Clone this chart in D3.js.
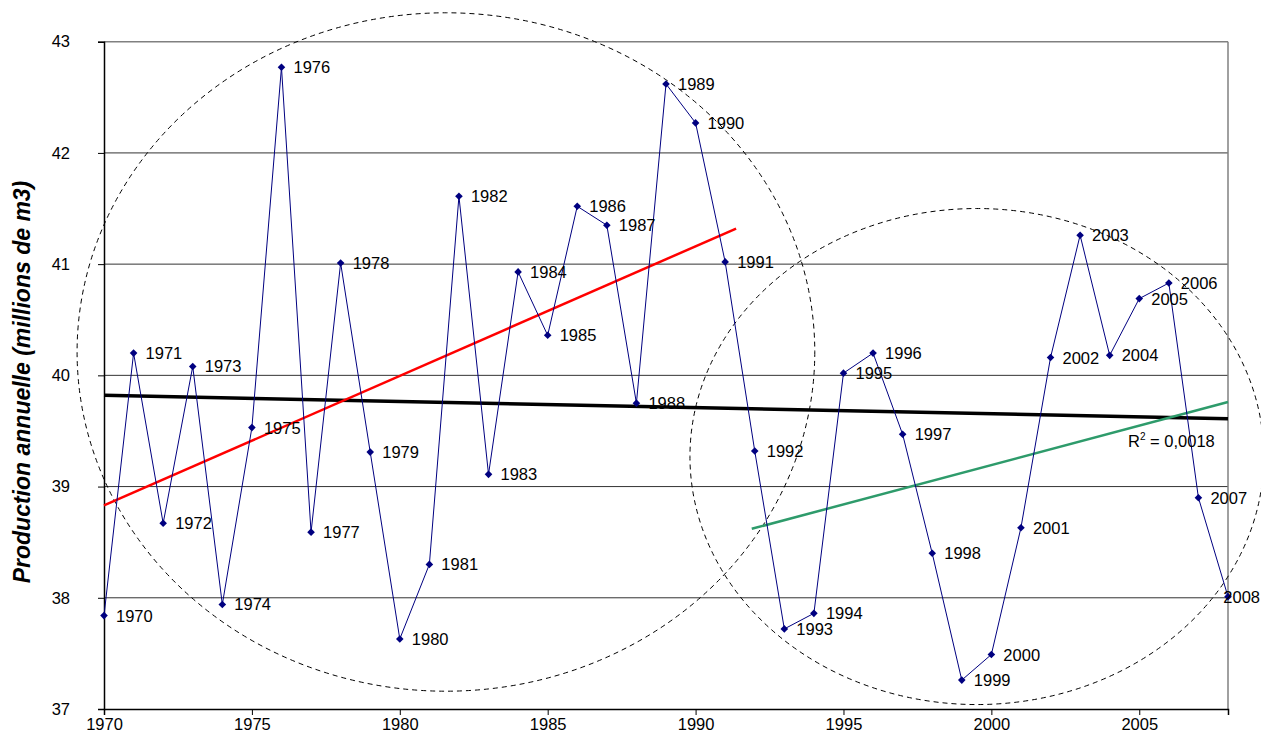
<!DOCTYPE html>
<html>
<head>
<meta charset="utf-8">
<script src="https://cdn.jsdelivr.net/npm/d3@7/dist/d3.min.js"></script>
<style>
  html, body { margin: 0; padding: 0; background: #fff; }
  svg { display: block; font-family: Arial, "Liberation Sans", sans-serif; }
</style>
</head>
<body>
<svg id="chart" width="1261" height="742"></svg>
<script>
// Annual production series (millions de m3)
const years = [1970,1971,1972,1973,1974,1975,1976,1977,1978,1979,
               1980,1981,1982,1983,1984,1985,1986,1987,1988,1989,
               1990,1991,1992,1993,1994,1995,1996,1997,1998,1999,
               2000,2001,2002,2003,2004,2005,2006,2007,2008];
const production = [37.84,40.20,38.67,40.08,37.94,39.53,42.77,38.59,41.01,39.31,
                    37.63,38.30,41.61,39.11,40.93,40.36,41.52,41.35,39.75,42.62,
                    42.27,41.02,39.32,37.72,37.86,40.02,40.20,39.47,38.40,37.26,
                    37.49,38.63,40.16,41.26,40.18,40.69,40.83,38.90,38.01];

// Trend lines: [x0, y0, x1, y1] in data units
const trendAll   = [1970, 39.82, 2008, 39.61];
const trendEarly = [1970, 38.83, 1991.37, 41.32];
const trendLate  = [1991.9, 38.62, 2008, 39.76];
const r2Label = "0,0018";

// Dashed ellipses grouping the two periods: centre year/value and radii in data units
const groupEllipses = [
  {cx: 1981.56, cy: 40.21, rx: 12.47, ry: 3.05},
  {cx: 1999.51, cy: 39.27, rx: 9.70,  ry: 2.23}
];

const yTicks = [37,38,39,40,41,42,43];
const xTicks = [1970,1975,1980,1985,1990,1995,2000,2005];
const yTitle = "Production annuelle (millions de m3)";

const W = 1261;
const svg = d3.select("#chart");
const x = d3.scaleLinear().domain([1970, 2008]).range([104, 1228]);
const y = d3.scaleLinear().domain([37, 43]).range([709, 41.7]);
const font = "Arial, 'Liberation Sans', sans-serif";

// Horizontal gridlines
svg.append("g").selectAll("line").data(yTicks.filter(d => d > 37)).join("line")
  .attr("x1", x(1970)).attr("x2", x(2008))
  .attr("y1", d => y(d)).attr("y2", d => y(d))
  .attr("stroke", d => d === 43 ? "#808080" : "#333")
  .attr("stroke-width", d => d === 43 ? 1.5 : 1);

// Right frame edge
svg.append("line")
  .attr("x1", x(2008)).attr("x2", x(2008)).attr("y1", y(43)).attr("y2", y(37))
  .attr("stroke", "#808080").attr("stroke-width", 1.5);

// Y axis
const yAxis = d3.axisLeft(y).tickValues(yTicks).tickSize(6).tickFormat(d3.format("d"));
const gy = svg.append("g").attr("transform", `translate(${x(1970)},0)`).call(yAxis);
gy.select(".domain").attr("stroke", "#000").attr("stroke-width", 1.5);
gy.selectAll(".tick line").attr("stroke", "#000");
gy.selectAll(".tick text").attr("font-size", 16.5).attr("fill", "#000")
  .attr("font-family", font)
  .attr("x", -34).attr("text-anchor", "end");

// X axis
const xAxis = d3.axisBottom(x).tickValues(xTicks).tickSize(6).tickPadding(3)
  .tickFormat(d3.format("d"));
const gx = svg.append("g").attr("transform", `translate(0,${y(37)})`).call(xAxis);
gx.select(".domain").attr("stroke", "#000").attr("stroke-width", 1.5);
gx.selectAll(".tick line").attr("stroke", "#000");
gx.selectAll(".tick text").attr("font-size", 16.5).attr("fill", "#000")
  .attr("font-family", font);

// Y axis title
svg.append("text")
  .attr("transform", `translate(30,382) rotate(-90)`)
  .attr("text-anchor", "middle")
  .attr("font-size", 23).attr("font-weight", "bold").attr("font-style", "italic")
  .text(yTitle);

// Group ellipses
svg.append("g").selectAll("ellipse").data(groupEllipses).join("ellipse")
  .attr("cx", d => x(d.cx)).attr("cy", d => y(d.cy))
  .attr("rx", d => x(d.cx + d.rx) - x(d.cx))
  .attr("ry", d => y(d.cy) - y(d.cy + d.ry))
  .attr("fill", "none").attr("stroke", "#000").attr("stroke-width", 1)
  .attr("stroke-dasharray", "5,4");

// Trend lines
const trends = [
  {d: trendAll,   color: "#000",    w: 3.5},
  {d: trendEarly, color: "#ff0000", w: 2.5},
  {d: trendLate,  color: "#2e9b6b", w: 2.5}
];
svg.append("g").selectAll("line").data(trends).join("line")
  .attr("x1", t => x(t.d[0])).attr("y1", t => y(t.d[1]))
  .attr("x2", t => x(t.d[2])).attr("y2", t => y(t.d[3]))
  .attr("stroke", t => t.color).attr("stroke-width", t => t.w);

// Series line
const pts = years.map((yr, i) => ({year: yr, value: production[i]}));
svg.append("path").datum(pts)
  .attr("fill", "none").attr("stroke", "#000080").attr("stroke-width", 1)
  .attr("d", d3.line().x(d => x(d.year)).y(d => y(d.value)));

// Diamond markers
svg.append("g").selectAll("path").data(pts).join("path")
  .attr("transform", d => `translate(${x(d.year)},${y(d.value)})`)
  .attr("d", "M0,-3.8L3.8,0L0,3.8L-3.8,0Z")
  .attr("fill", "#000080");

// Year labels next to each point, pulled back inside the frame near the right edge
const labels = svg.append("g").selectAll("text").data(pts).join("text")
  .attr("x", d => x(d.year) + 12)
  .attr("y", d => y(d.value) + 6)
  .attr("font-size", 16.5).attr("fill", "#000")
  .text(d => d.year);
labels.each(function () {
  const bb = this.getBBox();
  if (bb.x + bb.width > W - 1) d3.select(this).attr("x", W - 1 - bb.width);
});

// R² annotation
const r2 = svg.append("text").attr("x", 1128).attr("y", 447).attr("font-size", 16.5).attr("fill", "#000");
r2.append("tspan").text("R");
r2.append("tspan").attr("font-size", 10).attr("dy", -7).text("2");
r2.append("tspan").attr("dy", 7).text(" = " + r2Label);
</script>
</body>
</html>
